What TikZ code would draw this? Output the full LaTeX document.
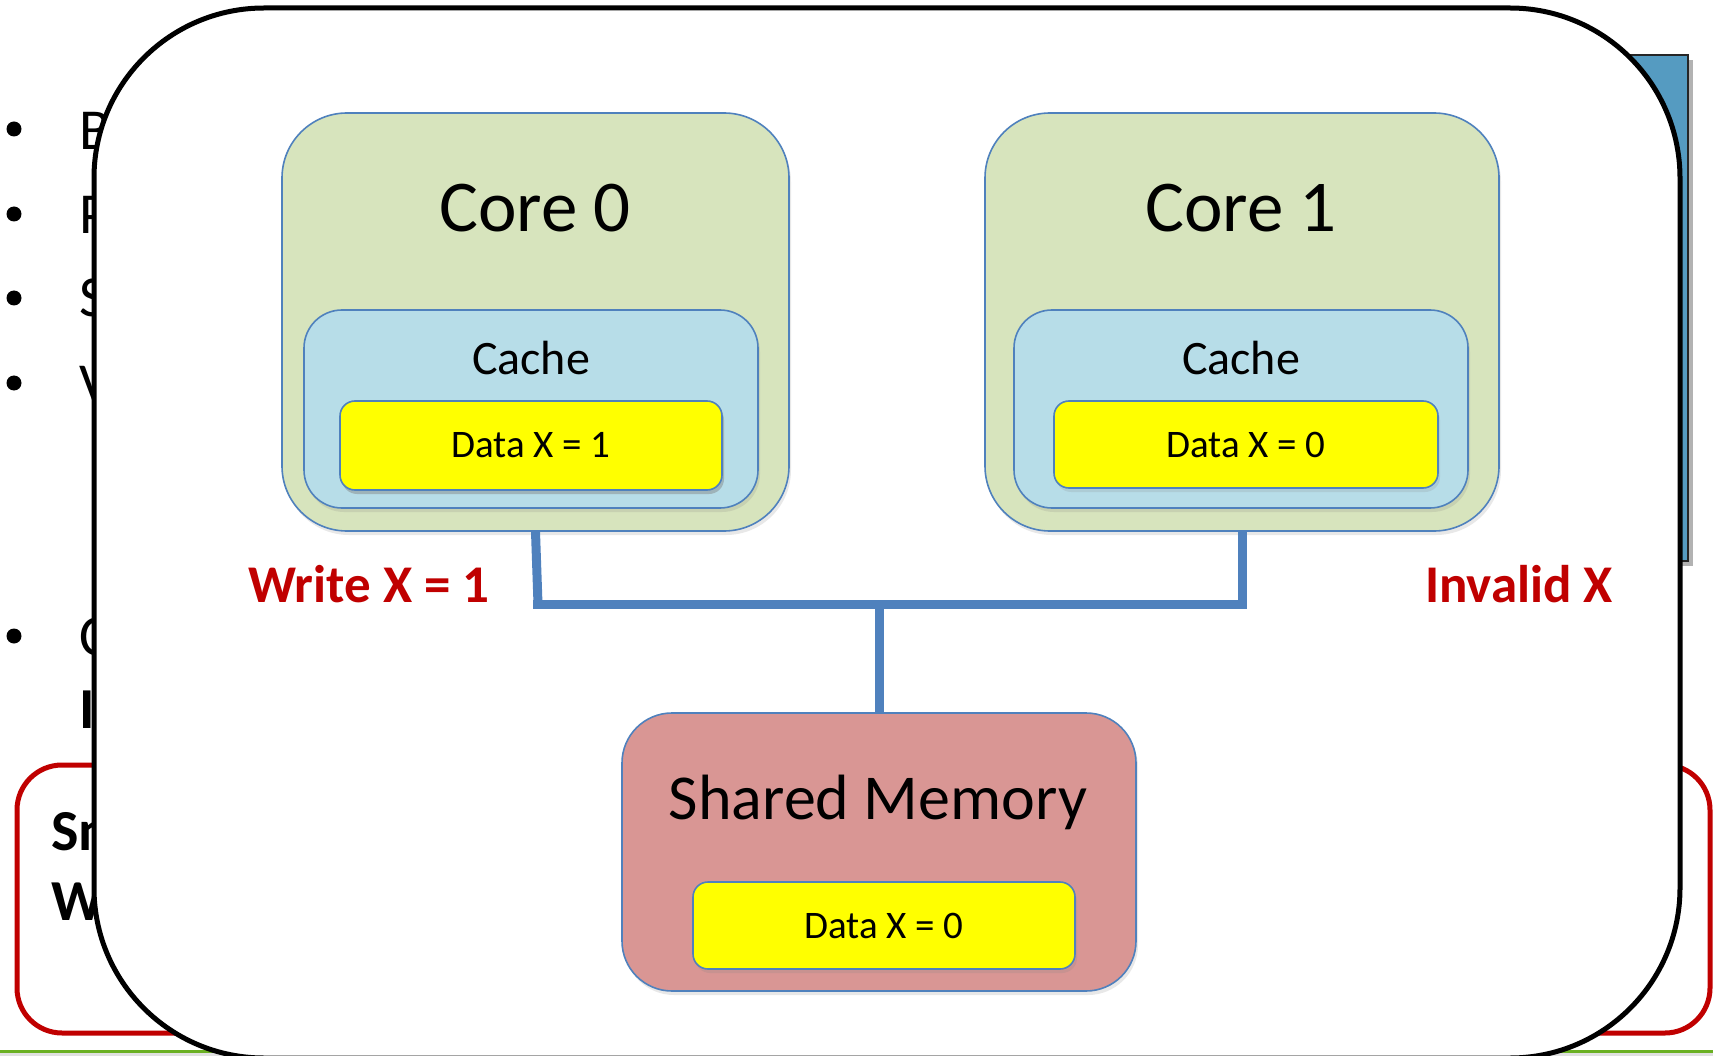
\documentclass[tikz,border=0pt]{standalone}
\usepackage{fontspec}
\setmainfont{Carlito}
\usetikzlibrary{shadows}
\definecolor{coregreen}{HTML}{D7E4BD}
\definecolor{cacheblue}{HTML}{B7DDE8}
\definecolor{memred}{HTML}{D99694}
\definecolor{edgeblue}{HTML}{4F81BD}
\definecolor{alertred}{HTML}{C00000}
\definecolor{slideblue}{HTML}{559BC1}
\definecolor{slidegreen}{HTML}{6AB023}
\definecolor{slidegray}{HTML}{E0E0E0}
\definecolor{datayellow}{RGB}{255,255,0}
\begin{document}
\begin{tikzpicture}[x=1pt,y=-1pt,
  softshadow/.style={drop shadow={opacity=0.18, shadow xshift=2pt, shadow yshift=-4pt}},
  darkshadow/.style={drop shadow={opacity=0.45, shadow xshift=2pt, shadow yshift=-4pt}},
  corebox/.style={draw=edgeblue, line width=1.6pt, fill=coregreen, rounded corners=65pt, inner sep=0pt, softshadow},
  cachebox/.style={draw=edgeblue, line width=1.6pt, fill=cacheblue, rounded corners=38pt, inner sep=0pt, softshadow},
  membox/.style={draw=edgeblue, line width=1.6pt, fill=memred, rounded corners=50pt, inner sep=0pt, softshadow},
  databox/.style={draw=edgeblue, line width=1.6pt, fill=datayellow, rounded corners=15pt, inner sep=0pt,
     font=\fontsize{39}{44}\selectfont},
  title/.style={inner sep=0pt, font=\fontsize{73}{80}\selectfont},
  subtitle/.style={inner sep=0pt, font=\fontsize{48}{54}\selectfont},
  alert/.style={inner sep=0pt, text=alertred, font=\bfseries\fontsize{53}{58}\selectfont},
  bus/.style={draw=edgeblue, line width=9pt},
  bgtext/.style={anchor=base west, inner sep=0pt, font=\fontsize{58}{64}\selectfont},
  bgbold/.style={anchor=base west, inner sep=0pt, font=\bfseries\fontsize{58}{64}\selectfont},
  dot/.style={circle, fill=black, minimum size=15pt, inner sep=0pt}
]
\useasboundingbox (0,0) rectangle (1713,1056);
\clip (0,0) rectangle (1713,1056);
\fill[white] (0,0) rectangle (1713,1056);

% background slide
\fill[slidegray] (0,1053) rectangle (1713,1056);
\draw[slidegreen, line width=2.5pt] (0,1051.5) -- (1713,1051.5);

\node[draw=black!85, line width=2.5pt, fill=slideblue, minimum width=488pt, minimum height=506pt,
      drop shadow={opacity=0.6, shadow xshift=5pt, shadow yshift=-5pt}] (slidebox) at (1444,308) {};

\node[dot] (d1) at (14,129) {};
\node[dot] (d2) at (14,214) {};
\node[dot] (d3) at (14,298) {};
\node[dot] (d4) at (14,383) {};
\node[dot] (d5) at (14,636) {};
\node[bgtext] (t1) at (79,150) {B};
\node[bgtext] (t2) at (79,234) {P};
\node[bgtext] (t3) at (79,317) {S};
\node[bgtext] (t4) at (79,403) {V};
\node[bgtext] (t5) at (79,655) {C};
\node[bgbold] (t6) at (79,728) {I};

\node[draw=alertred, line width=5pt, rounded corners=45pt, minimum width=1693pt, minimum height=268pt] (note) at (863.5,899) {};
\node[bgbold] (n1) at (51,850) {Sn};
\node[bgbold] (n2) at (51,920) {W};

% main frame
\node[draw=black, line width=5pt, fill=white, rounded corners=170pt, minimum width=1586pt, minimum height=1050pt] (frame) at (887,533) {};

% cores
\node[corebox, minimum width=507pt, minimum height=418pt] (core0) at (535.5,322) {};
\node[corebox, minimum width=514pt, minimum height=418pt] (core1) at (1242,322) {};
\node[title] (c0t) at (535,208) {Core 0};
\node[title] (c1t) at (1241,208) {Core 1};

\node[cachebox, minimum width=454pt, minimum height=198pt] (cache0) at (531,409) {};
\node[cachebox, minimum width=454pt, minimum height=198pt] (cache1) at (1241,409) {};
\node[subtitle] (ca0t) at (531,358) {Cache};
\node[subtitle] (ca1t) at (1241,358) {Cache};

\node[databox, darkshadow, minimum width=382pt, minimum height=89pt] (data0) at (531,445.5) {Data X = 1};
\node[databox, softshadow, minimum width=384pt, minimum height=87pt] (data1) at (1246,444.5) {Data X = 0};

% memory
\node[membox, minimum width=514pt, minimum height=278pt] (mem) at (879,852) {};
\node[title, anchor=base, font=\fontsize{64}{70}\selectfont] (memt) at (878,819) {Shared Memory};
\node[databox, softshadow, minimum width=382pt, minimum height=87pt] (memdata) at (884,925.5) {Data X = 0};

% bus
\coordinate (busL) at (538,604);
\coordinate (busLL) at (533,604);
\coordinate (busR) at (1242,604);
\coordinate (busM) at (879,604);
\draw[bus] (core0.south) -- (busL);
\draw[bus] (busLL) -- (busR);
\draw[bus] (core1.south) -- ([yshift=-4.5pt]busR);
\draw[bus] (busM) -- (mem.north);

% labels
\node[alert] (wlab) at (369,584) {Write X = 1};
\node[alert] (ilab) at (1519,584) {Invalid X};
\end{tikzpicture}
\end{document}
